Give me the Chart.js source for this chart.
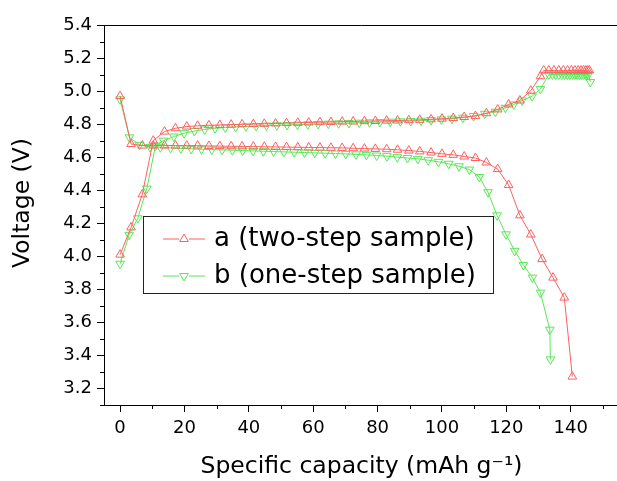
<!DOCTYPE html>
<html>
<head>
<meta charset="utf-8">
<script src="https://cdn.jsdelivr.net/npm/chart.js@4.4.0/dist/chart.umd.min.js"></script>
<style>
  html, body { margin: 0; padding: 0; background: #fff; overflow: hidden; }
  #wrap { width: 625px; height: 481px; }
</style>
</head>
<body>
<div id="wrap"><canvas id="myChart"></canvas></div>
<script>
// sample a (two-step) - charge branch
const a_charge_x = [0, 3.4, 6.9, 10.3, 13.8, 17.2, 20.7, 24.1, 27.6, 31.0, 34.5, 37.9, 41.4, 44.8, 48.3, 51.7, 55.2, 58.6, 62.1, 65.5, 69.0, 72.4, 75.9, 79.3, 82.8, 86.2, 89.7, 93.1, 96.6, 100.0, 103.5, 106.9, 110.4, 113.8, 117.3, 120.7, 124.2, 127.6, 130.6, 131.6, 133.2, 134.8, 136.3, 137.7, 139.0, 140.2, 141.3, 142.3, 143.2, 144.0, 144.7, 145.3, 145.8]
const a_charge_y = [4.01, 4.175, 4.375, 4.70, 4.755, 4.775, 4.785, 4.79, 4.793, 4.795, 4.797, 4.799, 4.80, 4.802, 4.804, 4.806, 4.808, 4.81, 4.812, 4.813, 4.815, 4.816, 4.818, 4.819, 4.821, 4.822, 4.824, 4.826, 4.829, 4.833, 4.837, 4.843, 4.849, 4.866, 4.889, 4.919, 4.943, 5.003, 5.09, 5.125, 5.125, 5.125, 5.125, 5.125, 5.125, 5.125, 5.125, 5.125, 5.125, 5.125, 5.125, 5.125, 5.125]
// sample a - discharge branch
const a_dis_x = [0, 3.4, 6.9, 10.3, 13.8, 17.2, 20.7, 24.1, 27.6, 31.0, 34.5, 37.9, 41.4, 44.8, 48.3, 51.7, 55.2, 58.6, 62.1, 65.5, 69.0, 72.4, 75.9, 79.3, 82.8, 86.2, 89.7, 93.1, 96.6, 100.0, 103.5, 106.9, 110.4, 113.8, 117.3, 120.7, 124.2, 127.6, 131.1, 134.5, 138.0, 140.5]
const a_dis_y = [4.97, 4.68, 4.67, 4.67, 4.67, 4.67, 4.67, 4.67, 4.668, 4.667, 4.666, 4.665, 4.664, 4.663, 4.662, 4.661, 4.66, 4.659, 4.658, 4.657, 4.656, 4.654, 4.652, 4.65, 4.648, 4.645, 4.64, 4.635, 4.628, 4.62, 4.614, 4.604, 4.595, 4.568, 4.528, 4.432, 4.248, 4.132, 3.983, 3.871, 3.75, 3.272]

// sample b (one-step) - charge branch
const b_charge_x = [0, 2.8, 5.5, 8.3, 11.0, 13.5, 16.7, 19.9, 23.1, 26.3, 29.5, 32.7, 35.9, 39.1, 42.3, 45.5, 48.7, 51.9, 55.1, 58.3, 61.5, 64.7, 67.9, 71.1, 74.3, 77.5, 80.7, 83.9, 87.1, 90.3, 93.5, 96.6, 99.8, 103.1, 106.5, 109.8, 113.3, 116.6, 119.7, 122.3, 124.9, 128.0, 130.6, 133.2, 134.3, 135.3, 136.3, 137.2, 138.1, 139.0, 139.8, 140.6, 141.3, 142.0, 142.7, 143.3, 143.9, 144.5, 145.0, 145.5, 146.1]
const b_charge_y = [3.955, 4.13, 4.23, 4.41, 4.67, 4.70, 4.725, 4.745, 4.758, 4.768, 4.775, 4.779, 4.783, 4.786, 4.789, 4.791, 4.793, 4.795, 4.797, 4.799, 4.801, 4.803, 4.805, 4.807, 4.809, 4.811, 4.813, 4.815, 4.817, 4.819, 4.821, 4.825, 4.829, 4.833, 4.839, 4.849, 4.863, 4.875, 4.899, 4.919, 4.943, 4.969, 5.013, 5.10, 5.10, 5.10, 5.10, 5.10, 5.10, 5.10, 5.10, 5.10, 5.10, 5.10, 5.10, 5.10, 5.10, 5.10, 5.10, 5.10, 5.055]
// sample b - discharge branch
const b_dis_x = [0, 2.9, 6.0, 9.3, 12.5, 15.7, 18.9, 22.1, 25.3, 28.5, 31.7, 34.9, 38.1, 41.3, 44.5, 47.7, 50.9, 54.1, 57.3, 60.5, 63.7, 66.9, 70.1, 73.3, 76.5, 79.7, 82.9, 86.1, 89.3, 92.5, 95.7, 98.9, 102.1, 105.3, 108.5, 111.6, 114.3, 117.1, 119.9, 122.6, 125.3, 128.1, 130.6, 133.5, 133.7]
const b_dis_y = [4.95, 4.72, 4.675, 4.662, 4.66, 4.656, 4.653, 4.65, 4.648, 4.646, 4.644, 4.642, 4.64, 4.638, 4.636, 4.634, 4.632, 4.63, 4.628, 4.626, 4.624, 4.622, 4.62, 4.617, 4.614, 4.61, 4.606, 4.60, 4.595, 4.59, 4.582, 4.572, 4.56, 4.545, 4.525, 4.48, 4.388, 4.248, 4.133, 4.033, 3.947, 3.871, 3.78, 3.556, 3.376]

const labels = ["a (two-step sample)", "b (one-step sample)"]

// labelled (major) and unlabelled (minor) tick values
const x_major = [0, 20, 40, 60, 80, 100, 120, 140]
const x_minor = [10, 30, 50, 70, 90, 110, 130, 150]
const y_major = [3.2, 3.4, 3.6, 3.8, 4.0, 4.2, 4.4, 4.6, 4.8, 5.0, 5.2, 5.4]
const y_minor = [3.1, 3.3, 3.5, 3.7, 3.9, 4.1, 4.3, 4.5, 4.7, 4.9, 5.1, 5.3]

const RED = '#ff5f5f'
const GREEN = '#58e858'
const FONT = "'DejaVu Sans', 'Liberation Sans', Arial, sans-serif"

function pts(xs, ys){
    return xs.map((x, i) => ({x: x, y: ys[i]}))
}

function series(label, xs, ys, color, rot, inLegend){
    return {
        label: label,
        data: pts(xs, ys),
        borderColor: color,
        borderWidth: 1,
        pointStyle: 'triangle',
        pointRotation: rot,
        pointRadius: 5,
        pointBorderWidth: 1,
        pointBorderColor: color,
        pointBackgroundColor: 'rgba(0,0,0,0)',
        showLine: true,
        fill: false,
        inLegend: inLegend
    }
}

// top + right frame lines, minor ticks, rotated y title
const frame = {
    id: 'frame',
    afterDraw(chart){
        const {ctx, chartArea: a} = chart
        const xs = chart.scales.x, ys = chart.scales.y
        ctx.save()
        ctx.strokeStyle = '#000'
        ctx.lineWidth = 1
        ctx.beginPath()
        ctx.moveTo(a.left, a.top + 0.5)
        ctx.lineTo(a.right, a.top + 0.5)
        ctx.lineTo(a.right, a.bottom)
        x_minor.forEach(v => {
            const px = Math.round(xs.getPixelForValue(v)) + 0.5
            ctx.moveTo(px, a.bottom)
            ctx.lineTo(px, a.bottom + 4)
        })
        y_minor.forEach(v => {
            const py = Math.round(ys.getPixelForValue(v)) + 0.5
            ctx.moveTo(a.left, py)
            ctx.lineTo(a.left - 4, py)
        })
        ctx.stroke()

        ctx.translate(23, 203)
        ctx.rotate(-Math.PI / 2)
        ctx.fillStyle = '#000'
        ctx.font = "23.5px " + FONT
        ctx.textAlign = 'center'
        ctx.textBaseline = 'middle'
        ctx.fillText('Voltage (V)', 0, 0)
        ctx.restore()
    }
}

// boxed legend inside the plot
const boxLegend = {
    id: 'boxLegend',
    afterDatasetsDraw(chart){
        const ctx = chart.ctx
        const bx = 143, by = 216, bw = 350, bh = 77
        ctx.save()
        ctx.fillStyle = '#fff'
        ctx.fillRect(bx, by, bw, bh)
        ctx.strokeStyle = '#222'
        ctx.lineWidth = 1
        ctx.strokeRect(bx + 0.5, by + 0.5, bw, bh)
        const items = chart.data.datasets.filter(d => d.inLegend)
        items.forEach((d, i) => {
            const y = by + 23 + i * 37
            ctx.strokeStyle = d.borderColor
            ctx.lineWidth = 1
            ctx.beginPath()
            ctx.moveTo(bx + 20, y); ctx.lineTo(bx + 36, y)
            ctx.moveTo(bx + 46, y); ctx.lineTo(bx + 62, y)
            ctx.stroke()
            ctx.fillStyle = 'rgba(0,0,0,0)'
            Chart.helpers.drawPoint(ctx, {pointStyle: 'triangle', radius: 5, rotation: d.pointRotation, borderWidth: 1}, bx + 41, y)
            ctx.fillStyle = '#000'
            ctx.font = "26px " + FONT
            ctx.textBaseline = 'middle'
            ctx.textAlign = 'left'
            ctx.fillText(d.label, bx + 71, y)
        })
        ctx.restore()
    }
}

var ctx = document.getElementById('myChart').getContext('2d')

var myChart = new Chart(ctx, {
    type: 'scatter',
    data: {
        datasets: [
            series(labels[0], a_charge_x, a_charge_y, RED, 0, true),
            series(labels[0], a_dis_x, a_dis_y, RED, 0, false),
            series(labels[1], b_charge_x, b_charge_y, GREEN, 180, true),
            series(labels[1], b_dis_x, b_dis_y, GREEN, 180, false)
        ]
    },
    options: {
        responsive: true,
        maintainAspectRatio: false,
        animation: false,
        layout: { padding: { top: 25, right: 6, left: 0, bottom: 0 } },
        plugins: {
            legend: { display: false },
            tooltip: { enabled: false }
        },
        scales: {
            x: {
                type: 'linear',
                min: -5,
                max: 155,
                afterBuildTicks: s => { s.ticks = x_major.map(v => ({value: v})) },
                afterFit: s => { s.height = 76 },
                border: { color: '#000', width: 1 },
                grid: {
                    drawOnChartArea: false,
                    tickLength: 7,
                    tickColor: '#000'
                },
                ticks: {
                    autoSkip: false,
                    maxRotation: 0,
                    padding: 6,
                    color: '#000',
                    font: { family: FONT, size: 18 },
                    callback: v => String(v)
                },
                title: {
                    display: true,
                    text: 'Specific capacity (mAh g\u207B\u00B9)',
                    color: '#000',
                    padding: 0,
                    font: { family: FONT, size: 23.5 }
                }
            },
            y: {
                min: 3.1,
                max: 5.4,
                afterBuildTicks: s => { s.ticks = y_major.map(v => ({value: v})) },
                afterFit: s => { s.width = 104 },
                border: { color: '#000', width: 1 },
                grid: {
                    drawOnChartArea: false,
                    tickLength: 7,
                    tickColor: '#000'
                },
                ticks: {
                    autoSkip: false,
                    padding: 5,
                    color: '#000',
                    font: { family: FONT, size: 18 },
                    callback: v => v.toFixed(1)
                },
                title: { display: false }
            }
        }
    },
    plugins: [frame, boxLegend]
})
myChart.update()
</script>
</body>
</html>
